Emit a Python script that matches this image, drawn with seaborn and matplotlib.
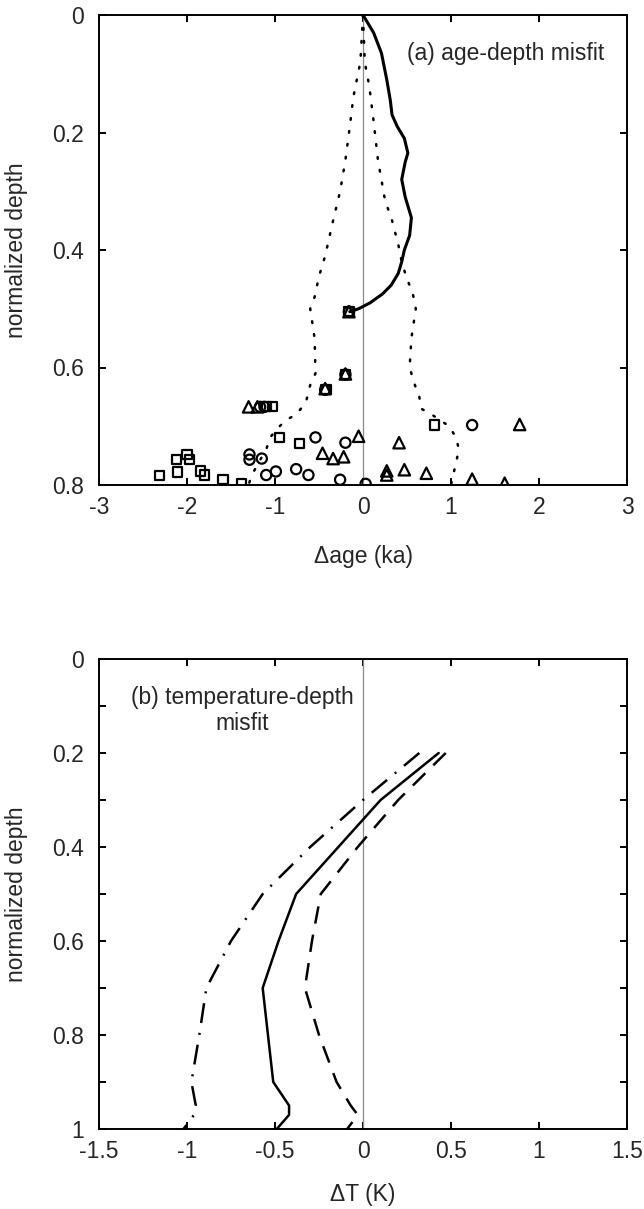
import matplotlib
matplotlib.use("Agg")
import matplotlib.pyplot as plt
import seaborn as sns
import pandas as pd
from matplotlib.ticker import MultipleLocator

# ---------------- Panel (a): age-depth misfit ----------------
model_depth = [0.0, 0.03, 0.065, 0.11, 0.145, 0.17, 0.19, 0.21, 0.235, 0.25, 0.28,
               0.31, 0.345, 0.375, 0.40, 0.42, 0.44, 0.46, 0.475, 0.49, 0.50, 0.505]
model_dage = [0.0, 0.12, 0.21, 0.27, 0.31, 0.33, 0.39, 0.47, 0.51, 0.48, 0.44,
              0.48, 0.55, 0.53, 0.47, 0.44, 0.40, 0.32, 0.22, 0.08, -0.05, -0.15]

env_left_depth = [0.0, 0.08, 0.14, 0.19, 0.247, 0.30, 0.35, 0.41, 0.445, 0.48, 0.50,
                  0.55, 0.61, 0.63, 0.66, 0.68, 0.69, 0.705, 0.72, 0.74, 0.76, 0.785, 0.80]
env_left_dage = [0.0, -0.03, -0.11, -0.15, -0.20, -0.26, -0.34, -0.43, -0.50, -0.55, -0.60,
                 -0.55, -0.54, -0.60, -0.65, -0.76, -0.88, -0.98, -1.06, -1.10, -1.18, -1.27, -1.30]
env_right_depth = [0.0, 0.08, 0.12, 0.18, 0.247, 0.315, 0.35, 0.39, 0.42, 0.45, 0.47, 0.50,
                   0.55, 0.60, 0.63, 0.65, 0.67, 0.68, 0.70, 0.72, 0.74, 0.76, 0.78, 0.80]
env_right_dage = [0.0, 0.02, 0.07, 0.12, 0.17, 0.25, 0.33, 0.40, 0.44, 0.50, 0.56, 0.60,
                  0.55, 0.53, 0.59, 0.64, 0.66, 0.78, 0.98, 1.06, 1.09, 1.06, 1.03, 1.00]

sq_dage = [-0.16, -0.20, -0.42, -1.10, -1.03, 0.81, -0.95, -0.72, -2.00, -1.97, -2.12,
           -1.85, -2.11, -2.31, -1.80, -1.59, -1.38]
sq_depth = [0.505, 0.612, 0.638, 0.667, 0.667, 0.698, 0.719, 0.729, 0.748, 0.756, 0.757,
            0.776, 0.778, 0.784, 0.783, 0.791, 0.798]
ci_dage = [-0.16, -0.20, -0.43, -1.17, -1.12, 1.24, -0.54, -0.20, -1.29, -1.29, -1.15,
           -0.76, -0.99, -0.62, -1.10, -0.26, 0.03]
ci_depth = [0.505, 0.612, 0.638, 0.667, 0.667, 0.698, 0.719, 0.728, 0.748, 0.757, 0.755,
            0.773, 0.777, 0.783, 0.783, 0.791, 0.798]
tri_dage = [-0.16, -0.20, -0.43, -1.30, -1.20, 1.78, -0.05, 0.41, -0.46, -0.34, -0.22,
            0.27, 0.27, 0.47, 0.72, 1.24, 1.61]
tri_depth = [0.505, 0.611, 0.636, 0.667, 0.667, 0.697, 0.717, 0.728, 0.746, 0.755, 0.752,
             0.776, 0.783, 0.774, 0.780, 0.790, 0.797]

# ---------------- Panel (b): temperature-depth misfit ----------------
t_depth = [0.2, 0.3, 0.4, 0.5, 0.6, 0.7, 0.8, 0.9, 0.95, 0.97, 1.0]
t_solid = [0.43, 0.10, -0.14, -0.38, -0.48, -0.57, -0.54, -0.51, -0.42, -0.42, -0.49]
t_dashed = [0.47, 0.20, -0.03, -0.24, -0.29, -0.33, -0.25, -0.15, -0.07, -0.03, -0.09]
t_dashdot = [0.32, 0.00, -0.30, -0.57, -0.75, -0.89, -0.93, -0.975, -0.95, -0.96, -1.02]

sns.set_style("ticks")
plt.rcParams["font.family"] = ["Liberation Sans", "DejaVu Sans"]
plt.rcParams["axes.linewidth"] = 1.4

FS = 16.5
fig = plt.figure(figsize=(6.44, 12.09), dpi=100)
ax1 = fig.add_axes([99 / 644, 1 - 485 / 1209, 528 / 644, 470 / 1209])
ax2 = fig.add_axes([99 / 644, 1 - 1129 / 1209, 528 / 644, 470 / 1209])

# ---- panel a ----
ax1.axvline(0, color="#8a8a8a", lw=0.9, zorder=1)
sns.lineplot(x=env_left_dage, y=env_left_depth, sort=False, estimator=None, ax=ax1,
             color="black", lw=1.8, linestyle=(0, (0.7, 4.5)), dash_capstyle="round", zorder=2)
sns.lineplot(x=env_right_dage, y=env_right_depth, sort=False, estimator=None, ax=ax1,
             color="black", lw=1.8, linestyle=(0, (0.7, 4.5)), dash_capstyle="round", zorder=2)
sns.lineplot(x=model_dage, y=model_depth, sort=False, estimator=None, ax=ax1,
             color="black", lw=2.2, zorder=3)
sns.scatterplot(x=sq_dage, y=sq_depth, marker="s", s=44, facecolor="none",
                edgecolor="black", linewidth=1.6, ax=ax1, zorder=4)
sns.scatterplot(x=ci_dage, y=ci_depth, marker="o", s=54, facecolor="none",
                edgecolor="black", linewidth=1.6, ax=ax1, zorder=4)
sns.scatterplot(x=tri_dage, y=tri_depth, marker="^", s=68, facecolor="none",
                edgecolor="black", linewidth=1.6, ax=ax1, zorder=4)

ax1.set_xlim(-3, 3)
ax1.set_ylim(0.8, 0)
ax1.set_xticks([-3, -2, -1, 0, 1, 2, 3])
ax1.set_xticklabels(["-3", "-2", "-1", "0", "1", "2", "3"])
ax1.set_yticks([0, 0.2, 0.4, 0.6, 0.8])
ax1.set_yticklabels(["0", "0.2", "0.4", "0.6", "0.8"])
ax1.text(0.5, 0.065, "(a) age-depth misfit", fontsize=FS, ha="left", va="center")
ax1.set_xlabel("\u0394age (ka)", fontsize=FS)
ax1.set_ylabel("normalized depth", fontsize=FS)
ax1.xaxis.set_label_coords(0.5, -0.128)
ax1.yaxis.set_label_coords(-0.135, 0.5)

# ---- panel b ----
ax2.axvline(0, color="#8a8a8a", lw=0.9, zorder=1)
sns.lineplot(x=t_dashdot, y=t_depth, sort=False, estimator=None, ax=ax2,
             color="black", lw=1.8, linestyle=(0, (8, 4, 0.8, 4)), zorder=2)
sns.lineplot(x=t_dashed, y=t_depth, sort=False, estimator=None, ax=ax2,
             color="black", lw=1.8, linestyle=(0, (7, 4.5)), zorder=2)
sns.lineplot(x=t_solid, y=t_depth, sort=False, estimator=None, ax=ax2,
             color="black", lw=1.8, zorder=3)

ax2.set_xlim(-1.5, 1.5)
ax2.set_ylim(1, 0)
ax2.set_xticks([-1.5, -1, -0.5, 0, 0.5, 1, 1.5])
ax2.set_xticklabels(["-1.5", "-1", "-0.5", "0", "0.5", "1", "1.5"])
ax2.set_yticks([0, 0.2, 0.4, 0.6, 0.8, 1])
ax2.set_yticklabels(["0", "0.2", "0.4", "0.6", "0.8", "1"])
ax2.yaxis.set_minor_locator(MultipleLocator(0.1))
ax2.text(-0.687, 0.11, "(b) temperature-depth\nmisfit", fontsize=FS, ha="center",
         va="center", linespacing=1.15)
ax2.set_xlabel("\u0394T (K)", fontsize=FS)
ax2.set_ylabel("normalized depth", fontsize=FS)
ax2.xaxis.set_label_coords(0.5, -0.115)
ax2.yaxis.set_label_coords(-0.135, 0.5)

for ax in (ax1, ax2):
    for sp in ax.spines.values():
        sp.set_visible(True)
        sp.set_linewidth(1.4)
        sp.set_color("black")
    ax.tick_params(which="both", direction="in", top=True, right=True,
                   width=1.4, color="black", labelsize=FS)
    ax.tick_params(which="both", length=5)
    ax.tick_params(axis="x", which="both", pad=8)
    ax.tick_params(axis="y", which="both", pad=11)

fig.savefig("out.png", dpi=100)
